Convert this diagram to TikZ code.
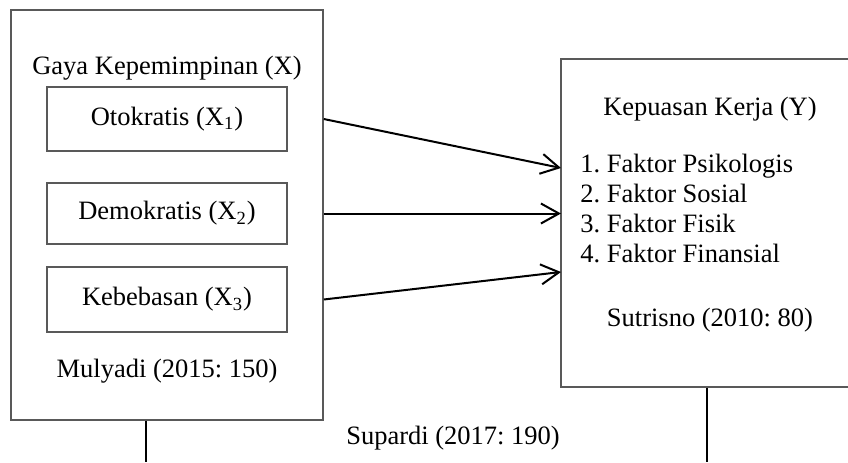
\documentclass[tikz,border=0pt]{standalone}
\usepackage{fontspec}
\setmainfont{Liberation Serif}
\usetikzlibrary{arrows.meta}
\frenchspacing

\begin{document}
\begin{tikzpicture}
  [x=.5pt,y=-.5pt,every node/.style={font=\fontsize{13.25}{15}\selectfont,inner sep=0pt},
   box/.style={draw=black!65,line width=.75pt,rectangle}]
  \useasboundingbox (0,0) rectangle (848,462);
  % gaya kepemimpinan
  \node[box,minimum width=156pt,minimum height=205pt] (lbox) at (167,215) {};
  \node[anchor=base] (gaya) at (167,74) {Gaya Kepemimpinan (X)};
  \node[box,minimum width=120pt,minimum height=32pt] (x1) at (167,119) {Otokratis (X\textsubscript{1})};
  \node[box,minimum width=120pt,minimum height=30.5pt] (x2) at (167,213.5) {Demokratis (X\textsubscript{2})};
  \node[box,minimum width=120pt,minimum height=32.5pt] (x3) at (167,299.5) {Kebebasan (X\textsubscript{3})};
  \node[anchor=base] (mul) at (167,377) {Mulyadi (2015: 150)};
  % kepuasan kerja
  \node[box,minimum width=145pt,minimum height=164pt] (rbox) at (706,223) {};
  \node[anchor=base] (kep) at (710,115) {Kepuasan Kerja (Y)};
  \foreach \i/\t in {1/Psikologis,2/Sosial,3/Fisik,4/Finansial}
    \node[anchor=base west] (f\i) at (580,142+30*\i) {\i. Faktor \t};
  \node[anchor=base] (sut) at (710,326) {Sutrisno (2010: 80)};
  \node[anchor=base] (sup) at (453,444) {Supardi (2017: 190)};
  \coordinate (y1) at (561,168);
  \coordinate (y2) at (561,213.5);
  \coordinate (y3) at (561,272);
  \coordinate (bl) at (146,462);
  \coordinate (br) at (707,462);
  \begin{scope}[line width=1pt, -{Straight Barb[length=9pt,width=10pt]}]
    \foreach \i in {1,2,3}
    \draw (lbox.east |- x\i) -> (y\i);
  \end{scope}
  \draw[line width=1pt] (lbox.south -| bl) -- (bl);
  \draw[line width=1pt] (rbox.south -| br) -- (br);
\end{tikzpicture}
\end{document}
